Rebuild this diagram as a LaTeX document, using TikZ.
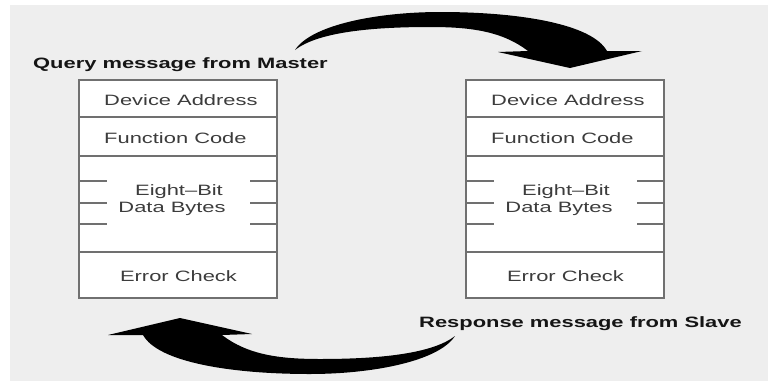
\documentclass[tikz,border=0pt]{standalone}
\usepackage{fontspec}
\setmainfont{Liberation Sans}[FakeStretch=1.46]
\usetikzlibrary{calc}

\definecolor{pagegray}{HTML}{EEEEEE}
\definecolor{framegray}{HTML}{707070}
\definecolor{fieldtext}{HTML}{3C3C3C}
\definecolor{captiontext}{HTML}{151515}

\newcommand\fieldfont{\fontsize{15}{18}\selectfont}
\newcommand\captionfont{\fontsize{15}{18}\selectfont\bfseries}

% outline of the curved transfer arrow (Master -> Slave direction)
\newcommand\transferarrow{%
  (295,50) .. controls (312,24) and (380,12) .. (440,12)
  .. controls (520,12) and (592,24) .. (607,51)
  -- (642,51) -- (570,68) -- (498,52) -- (528,51)
  .. controls (502,31) and (470,27) .. (430,27)
  .. controls (372,27) and (318,32) .. (295,50) -- cycle}

\begin{document}
\begin{tikzpicture}[x=1pt,y=-1pt,
  row/.style={draw=framegray, line width=1.3pt, fill=white,
    minimum width=198pt, inner sep=0pt, outer sep=0pt, anchor=north west},
  tick/.style={draw=framegray, line width=1.3pt},
  field/.style={inner sep=0pt, text=fieldtext, font=\fieldfont},
  caption/.style={inner sep=0pt, text=captiontext, font=\captionfont, anchor=base west},
  bigarrow/.style={fill=black}]

\useasboundingbox (0,0) rectangle (768,381);
\fill[white] (0,0) rectangle (768,381);
\fill[pagegray] (10,5) rectangle (768,381);

% the two message frames
\foreach \p/\x in {q/79, r/466} {
  \node[row, minimum height=37pt] (\p-addr) at (\x,80) {};
  \node[row, minimum height=39pt] (\p-func) at (\x,117) {};
  \node[row, minimum height=96pt] (\p-data) at (\x,156) {};
  \node[row, minimum height=46pt] (\p-crc)  at (\x,252) {};
  \foreach \d in {25,47,68} {
    \draw[tick] ($(\p-data.north west)+(0,\d)$) -- ++(28,0);
    \draw[tick] ($(\p-data.north east)+(0,\d)$) -- ++(-27,0);
  }
  \node[field, anchor=base west] (\p-addrtext) at (\x+25,105) {Device Address};
  \node[field, anchor=base west] (\p-functext) at (\x+25,143) {Function Code};
  \node[field, anchor=base] (\p-eight) at (\x+100,195) {Eight–Bit};
  \node[field, anchor=base] (\p-bytes) at (\x+93,212) {Data Bytes};
  \node[field, anchor=base] (\p-crctext) at (\x+99.5,281) {Error Check};
}

\node[caption] (query) at (33,68) {Query message from Master};
\node[caption] (response) at (419,327) {Response message from Slave};

% query travels to the slave, response comes back
\fill[bigarrow] \transferarrow;
\begin{scope}[rotate around={180:(375,193)}]
  \fill[bigarrow] \transferarrow;
\end{scope}
\end{tikzpicture}
\end{document}
